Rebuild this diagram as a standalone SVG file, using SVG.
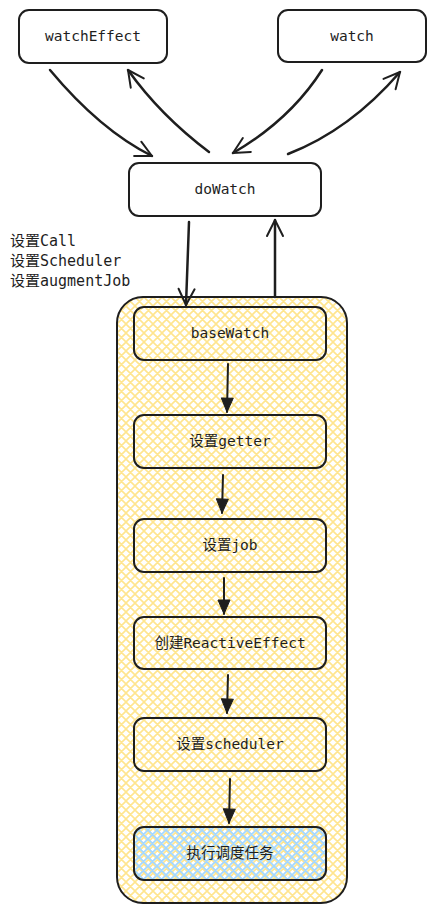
<svg xmlns="http://www.w3.org/2000/svg" width="436" height="913" viewBox="0 0 436 913">
<defs>
<pattern id="hatchY" patternUnits="userSpaceOnUse" width="9" height="9">
<path d="M0,0 L9,9 M9,0 L0,9 M-1,8 L1,10 M8,-1 L10,1 M-1,1 L1,-1 M8,10 L10,8" stroke="#ffe58f" stroke-width="1.6" fill="none"/>
</pattern>
<pattern id="hatchB" patternUnits="userSpaceOnUse" width="9" height="9" patternTransform="translate(4,2)">
<path d="M0,0 L9,9 M9,0 L0,9 M-1,8 L1,10 M8,-1 L10,1 M-1,1 L1,-1 M8,10 L10,8" stroke="#a5d8ff" stroke-width="1.8" fill="none"/>
</pattern>
<marker id="open" viewBox="0 0 20 20" refX="18" refY="10" markerWidth="20" markerHeight="20" markerUnits="userSpaceOnUse" orient="auto">
<path d="M2,2 L18,10 L2,18" fill="none" stroke="#1e1e1e" stroke-width="2" stroke-linecap="round" stroke-linejoin="round"/>
</marker>
<marker id="tri" viewBox="0 0 16 16" refX="15" refY="8" markerWidth="16" markerHeight="16" markerUnits="userSpaceOnUse" orient="auto">
<path d="M1,2 L15,8 L1,14 Z" fill="#1e1e1e" stroke="#1e1e1e" stroke-width="1" stroke-linejoin="round"/>
</marker>
</defs>
<style>
.box{fill:#ffffff;stroke:#1e1e1e;stroke-width:2}
.ibox{fill:none;stroke:#1e1e1e;stroke-width:2}
.t{font-family:"DejaVu Sans Mono","Noto Sans CJK SC",monospace;font-size:14.5px;fill:#1e1e1e;text-anchor:middle;dominant-baseline:central}
.l{font-family:"DejaVu Sans Mono","Noto Sans CJK SC",monospace;font-size:15px;fill:#1e1e1e}
.c{fill:none;stroke:#1e1e1e;stroke-width:2.5;stroke-linecap:round}
.ci{fill:none;stroke:#1e1e1e;stroke-width:2;stroke-linecap:round}
</style>
<rect width="436" height="913" fill="#ffffff"/>

<g id="container">
<rect x="117" y="297" width="230" height="606" rx="26" fill="url(#hatchY)" stroke="#1e1e1e" stroke-width="2"/>
</g>

<g id="watchEffect">
<rect class="box" x="19" y="10" width="148" height="53" rx="10"/>
<text class="t" x="93" y="36">watchEffect</text>
</g>
<g id="watch">
<rect class="box" x="278" y="10" width="148" height="52" rx="10"/>
<text class="t" x="352" y="36">watch</text>
</g>
<g id="doWatch">
<rect class="box" x="129" y="163" width="192" height="53" rx="10"/>
<text class="t" x="225" y="189">doWatch</text>
</g>

<g id="labels">
<text class="l" x="10" y="246">设置Call</text>
<text class="l" x="10" y="266">设置Scheduler</text>
<text class="l" x="10" y="286">设置augmentJob</text>
</g>

<g id="baseWatch">
<rect class="ibox" x="134" y="307" width="192" height="53" rx="10"/>
<text class="t" x="230" y="333">baseWatch</text>
</g>
<g id="getter">
<rect class="ibox" x="134" y="415" width="192" height="53" rx="10"/>
<text class="t" x="230" y="441">设置getter</text>
</g>
<g id="job">
<rect class="ibox" x="134" y="519" width="192" height="53" rx="10"/>
<text class="t" x="230" y="545">设置job</text>
</g>
<g id="reactiveEffect">
<rect class="ibox" x="134" y="617" width="192" height="52" rx="10"/>
<text class="t" x="230" y="643">创建ReactiveEffect</text>
</g>
<g id="scheduler">
<rect class="ibox" x="134" y="718" width="192" height="53" rx="10"/>
<text class="t" x="230" y="744">设置scheduler</text>
</g>
<g id="execute">
<rect x="134" y="827" width="192" height="53" rx="10" fill="url(#hatchB)" stroke="#1e1e1e" stroke-width="2"/>
<text class="t" x="230" y="853">执行调度任务</text>
</g>

<g id="connectors">
<path class="c" d="M50,70 Q100,130 152,156" marker-end="url(#open)"/>
<path class="c" d="M209,152 Q160,115 128,70" marker-end="url(#open)"/>
<path class="c" d="M322,70 Q290,120 233,153" marker-end="url(#open)"/>
<path class="c" d="M288,154 Q350,130 400,72" marker-end="url(#open)"/>
<path class="c" d="M189,222 L186,305" marker-end="url(#open)"/>
<path class="c" d="M275,297 L275,220" marker-end="url(#open)"/>
<path class="ci" d="M228,364 L227,412" marker-end="url(#tri)"/>
<path class="ci" d="M223,475 L222,513" marker-end="url(#tri)"/>
<path class="ci" d="M224,578 L224,614" marker-end="url(#tri)"/>
<path class="ci" d="M228,675 L227,713" marker-end="url(#tri)"/>
<path class="ci" d="M230,779 L229,823" marker-end="url(#tri)"/>
</g>
</svg>
